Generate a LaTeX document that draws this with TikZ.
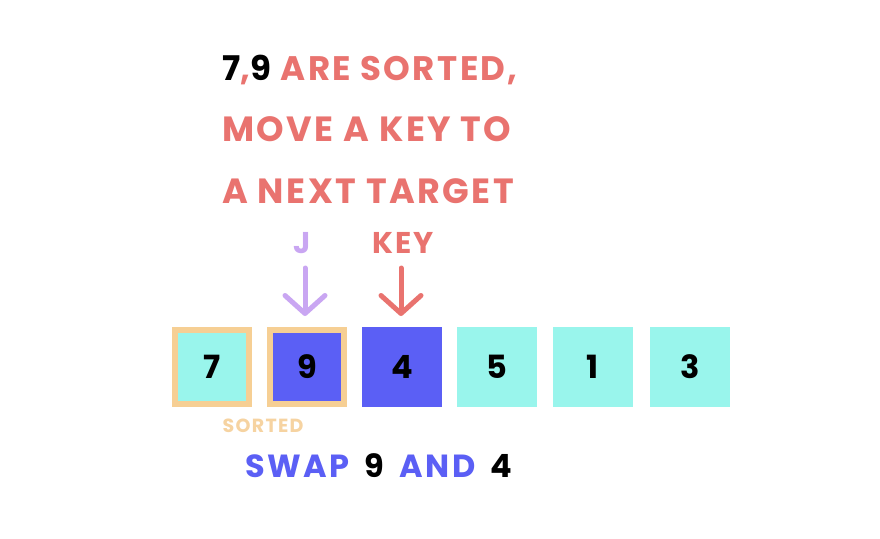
\documentclass[tikz,border=0pt]{standalone}
\usepackage{fontspec}
\setmainfont{Poppins}
\newfontfamily\handfont{Poppins}[LetterSpace=7]
\newfontfamily\handwide{Poppins}[LetterSpace=8,WordSpace=1.6]
\usetikzlibrary{arrows.meta}
\definecolor{salmon}{HTML}{E9736F}
\definecolor{lilac}{HTML}{C9A6F2}
\definecolor{blueb}{HTML}{5B5FF5}
\definecolor{cyanb}{HTML}{99F5EC}
\definecolor{orangeb}{HTML}{F6CF94}
\definecolor{sortedc}{HTML}{F6D3A1}
\tikzset{
  hand/.style={font=\handfont\fontsize{#1}{#1}\selectfont\bfseries, inner sep=0pt},
  cell/.style={minimum size=80pt, inner sep=0pt, draw=none, font=\fontsize{32}{32}\selectfont\bfseries},
  sortedcell/.style={minimum size=74pt, inner sep=0pt, draw=orangeb, line width=6pt, font=\fontsize{32}{32}\selectfont\bfseries},
  pointer/.style={line width=5pt, line cap=round, line join=round, -{Straight Barb[length=18pt,width=40pt,line cap=round,line join=round]}}
}
\begin{document}
\begin{tikzpicture}[x=1pt,y=-1pt]
\useasboundingbox (0,0) rectangle (880,538);
\fill[white] (0,0) rectangle (880,538);
% cells
\node[sortedcell, fill=cyanb] (c1) at (212,367) {7};
\node[sortedcell, fill=blueb] (c2) at (307,367) {9};
\node[cell, fill=blueb] (c3) at (402,367) {4};
\node[cell, fill=cyanb] (c4) at (497,367) {5};
\node[cell, fill=cyanb] (c5) at (593,367) {1};
\node[cell, fill=cyanb] (c6) at (690,367) {3};
% heading
\node[hand=34, anchor=base west, text=salmon] (t1) at (222,80) {\textcolor{black}{7}{,}\textcolor{black}{9} ARE SORTED,};
\node[hand=35, anchor=base west, text=salmon] (t2) at (222,141) {MOVE A KEY TO};
\node[hand=35, anchor=base west, text=salmon] (t3) at (222,203) {A NEXT TARGET};
% pointers
\node[hand=30, anchor=base, text=lilac] (j) at (302,253) {J};
\node[hand=30, anchor=base, text=salmon] (key) at (403,253) {KEY};
\coordinate (jt) at (305,268);
\coordinate (kt) at (401,268);
\coordinate (jb) at (305,316);
\coordinate (kb) at (401,316);
\draw[pointer, lilac] (jt) -- (jb);
\draw[pointer, salmon] (kt) -- (kb);
% labels
\node[hand=19, anchor=base, text=sortedc] (sorted) at (263,432) {SORTED};
\node[inner sep=0pt, font=\handwide\fontsize{32}{32}\selectfont\bfseries, anchor=base west, text=blueb] (swap) at (245,477) {SWAP \textcolor{black}{9} AND \textcolor{black}{4}};
\end{tikzpicture}
\end{document}
